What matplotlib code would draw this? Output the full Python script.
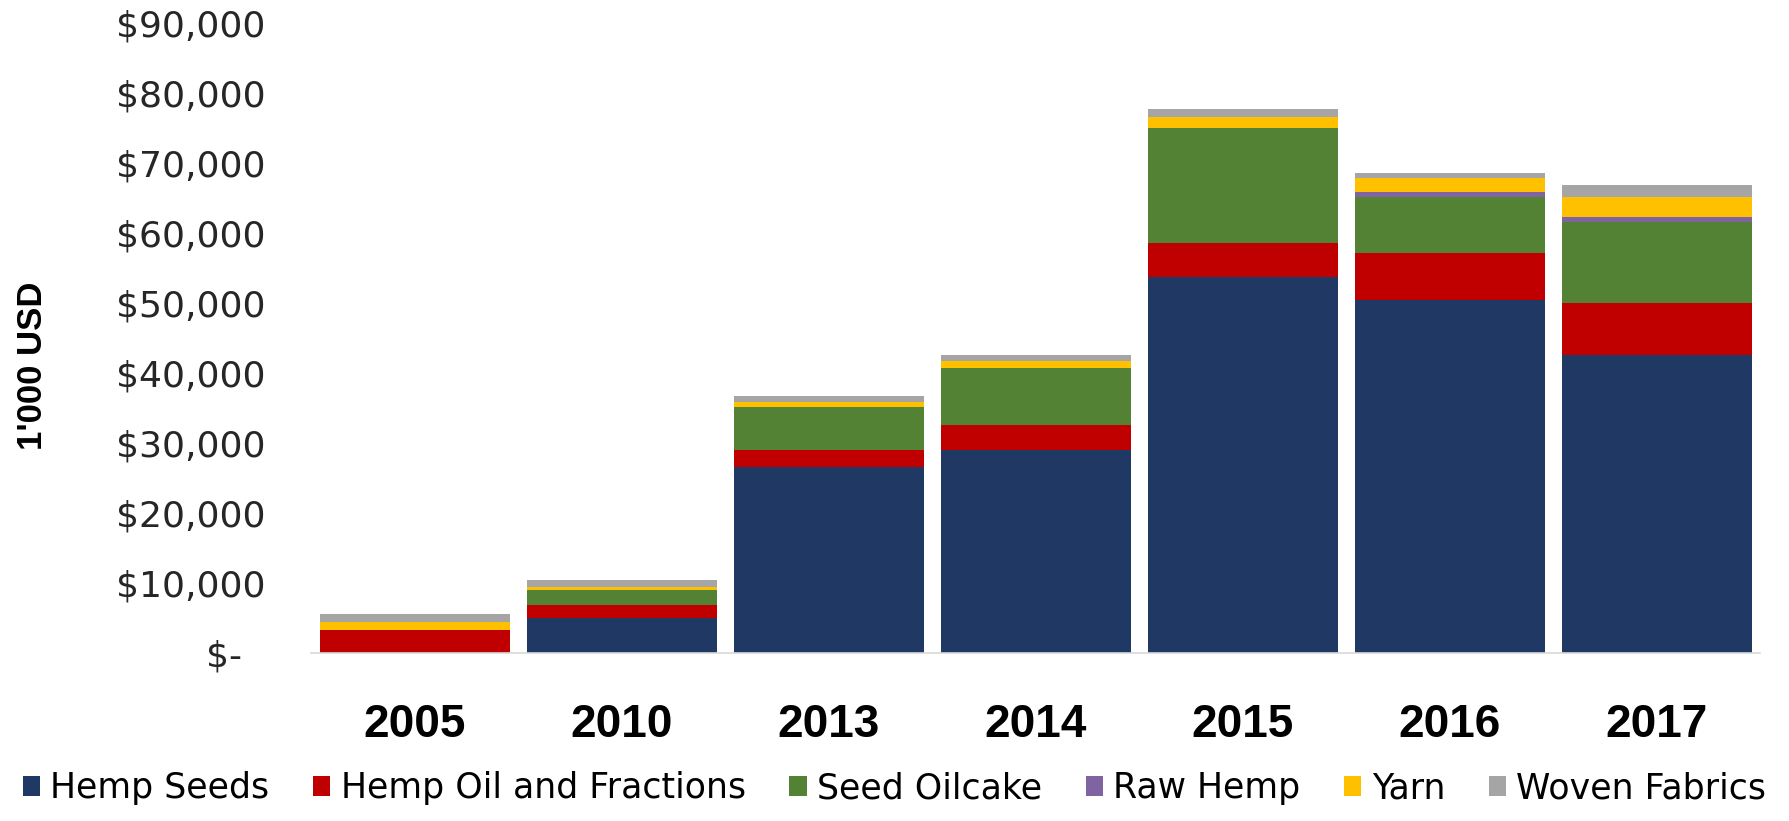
import numpy as np
import matplotlib.pyplot as plt
from matplotlib.ticker import FuncFormatter

years = ['2005', '2010', '2013', '2014', '2015', '2016', '2017']

# values in 1'000 USD
hemp_seeds = [0, 5000, 26600, 29000, 53700, 50400, 42600]
hemp_oil = [3300, 1850, 2400, 3600, 4900, 6700, 7400]
seed_oilcake = [0, 2150, 6150, 8100, 16400, 8000, 11600]
raw_hemp = [0, 0, 0, 0, 0, 700, 700]
yarn = [1100, 450, 700, 1000, 1600, 2000, 2900]
woven_fabrics = [1200, 1000, 850, 900, 1100, 700, 1700]

series = [
    ('Hemp Seeds', hemp_seeds, '#203864'),
    ('Hemp Oil and Fractions', hemp_oil, '#C00000'),
    ('Seed Oilcake', seed_oilcake, '#548235'),
    ('Raw Hemp', raw_hemp, '#8064A2'),
    ('Yarn', yarn, '#FFC000'),
    ('Woven Fabrics', woven_fabrics, '#A5A5A5'),
]

fig = plt.figure(figsize=(17.89, 8.21), dpi=100)
ax = fig.add_axes([0.174, 0.2046, 0.810, 0.7674])

x = np.arange(len(years))
bottom = np.zeros(len(years))
for name, vals, color in series:
    vals = np.array(vals, dtype=float)
    ax.bar(x, vals, width=0.915, bottom=bottom, color=color, label=name)
    bottom += vals

ax.set_xlim(-0.5, len(years) - 0.5)
ax.set_ylim(0, 90000)
ax.set_yticks(np.arange(0, 90001, 10000))


def money(v, pos):
    if v == 0:
        return '$-  '
    return '${:,.0f}'.format(v)


ax.yaxis.set_major_formatter(FuncFormatter(money))
ax.tick_params(axis='y', length=0, pad=33, labelsize=26, labelcolor='#262626')
ax.tick_params(axis='x', length=0, pad=36)

ax.set_xticks(x)
ax.set_xticklabels(years, fontsize=33, fontweight='bold',
                   family=['Liberation Sans Narrow', 'Liberation Sans', 'DejaVu Sans'])

for side in ['top', 'right', 'left']:
    ax.spines[side].set_visible(False)
ax.spines['bottom'].set_color('#D9D9D9')
ax.spines['bottom'].set_linewidth(1.2)

fig.text(0.018, 0.555, "1'000 USD", rotation=90, ha='center', va='center',
         fontsize=25, fontweight='bold',
         family=['Liberation Sans Narrow', 'Liberation Sans', 'DejaVu Sans'])

fig.legend(loc='lower center', bbox_to_anchor=(0.5, -0.019), ncol=6,
           frameon=False, handlelength=0.5, handleheight=0.5,
           handletextpad=0.3, columnspacing=1.25,
           prop={'family': 'DejaVu Sans', 'size': 25})

fig.savefig('out.png', dpi=100)
